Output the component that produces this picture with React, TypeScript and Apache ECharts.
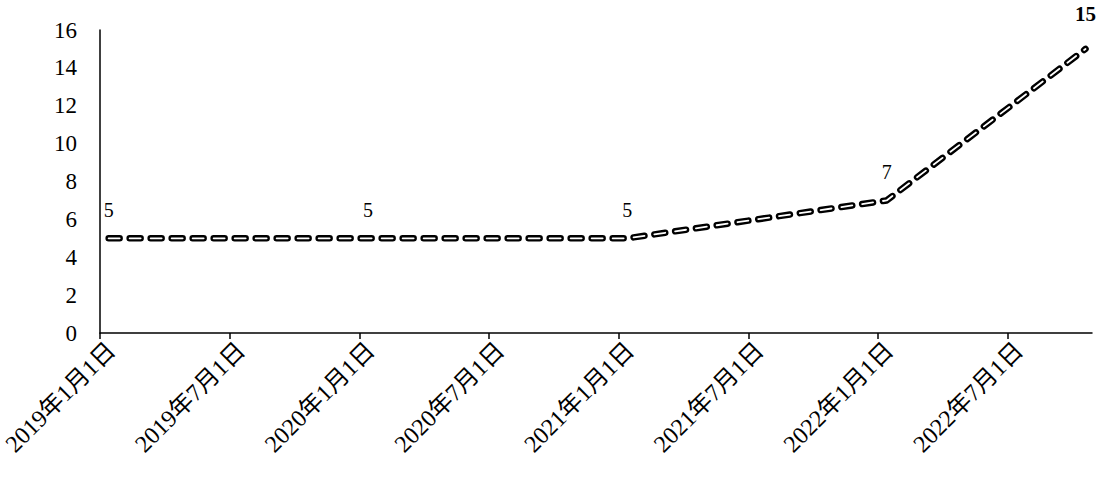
import React, { useEffect, useRef } from "react";
import * as echarts from "echarts";

// x values: months since 2019-01-01
const monthsX = [0.4, 12.4, 24.4, 36.4, 45.6];
const values = [5, 5, 5, 7, 15];
const xTickMonths = [0, 6, 12, 18, 24, 30, 36, 42];
const yTicks = [0, 2, 4, 6, 8, 10, 12, 14, 16];

const FONT = "'Liberation Serif', 'Times New Roman', 'Noto Sans CJK SC', serif";

function monthLabel(v: number): string {
  const y = 2019 + Math.floor(v / 12);
  const m = (v % 12) + 1;
  return `${y}年${m}月1日`;
}

export default function App() {
  const ref = useRef<HTMLDivElement>(null);
  useEffect(() => {
    document.body.style.margin = "0";
    const chart = echarts.init(ref.current!, null, { renderer: "svg" });
    const data = monthsX.map((x, i) => ({
      value: [x, values[i]],
      label: i === values.length - 1 ? { distance: 24, fontSize: 21, fontWeight: "bold" } : undefined,
    }));
    const dash = [11, 10];
    chart.setOption({
      animation: false,
      backgroundColor: "#ffffff",
      grid: {
        left: 100,
        right: 4,
        top: 30,
        bottom: 144,
        containLabel: false,
        outerBoundsMode: "none",
      },
      xAxis: {
        type: "value",
        min: 0,
        max: 45.9,
        interval: 6,
        splitLine: { show: false },
        axisLine: { show: true, lineStyle: { color: "#000", width: 1.5 } },
        axisTick: {
          show: true,
          length: 6,
          inside: false,
          customValues: xTickMonths,
          lineStyle: { color: "#000", width: 1.5 },
        },
        axisLabel: {
          rotate: 45,
          margin: 2,
          verticalAlign: "top",
          padding: [4, 0, 0, 0],
          customValues: xTickMonths,
          formatter: (v: number) => monthLabel(v),
          fontFamily: FONT,
          fontSize: 24,
          color: "#000",
        },
      },
      yAxis: {
        type: "value",
        min: 0,
        max: 16,
        interval: 2,
        splitLine: { show: false },
        axisLine: { show: true, lineStyle: { color: "#000", width: 1.5 } },
        axisTick: { show: false },
        axisLabel: {
          margin: 23,
          fontFamily: FONT,
          fontSize: 23,
          color: "#000",
          customValues: yTicks,
        },
      },
      series: [
        {
          type: "line",
          data,
          showSymbol: true,
          symbol: "circle",
          symbolSize: 1,
          itemStyle: { color: "rgba(0,0,0,0)", borderWidth: 0 },
          lineStyle: { color: "#000", width: 6.5, type: dash, cap: "round", join: "round" },
          label: {
            show: true,
            position: "top",
            distance: 18,
            fontFamily: FONT,
            fontSize: 20,
            color: "#000",
            formatter: (p: any) => String(p.value[1]),
          },
          labelLayout: { hideOverlap: false },
          z: 2,
        },
        {
          type: "line",
          data: monthsX.map((x, i) => [x, values[i]]),
          showSymbol: false,
          symbol: "none",
          lineStyle: { color: "#fff", width: 1.8, type: dash, cap: "round", join: "round" },
          label: { show: false },
          silent: true,
          z: 3,
        },
      ],
    });
    return () => chart.dispose();
  }, []);
  return <div ref={ref} style={{ width: 1096, height: 477 }} />;
}
